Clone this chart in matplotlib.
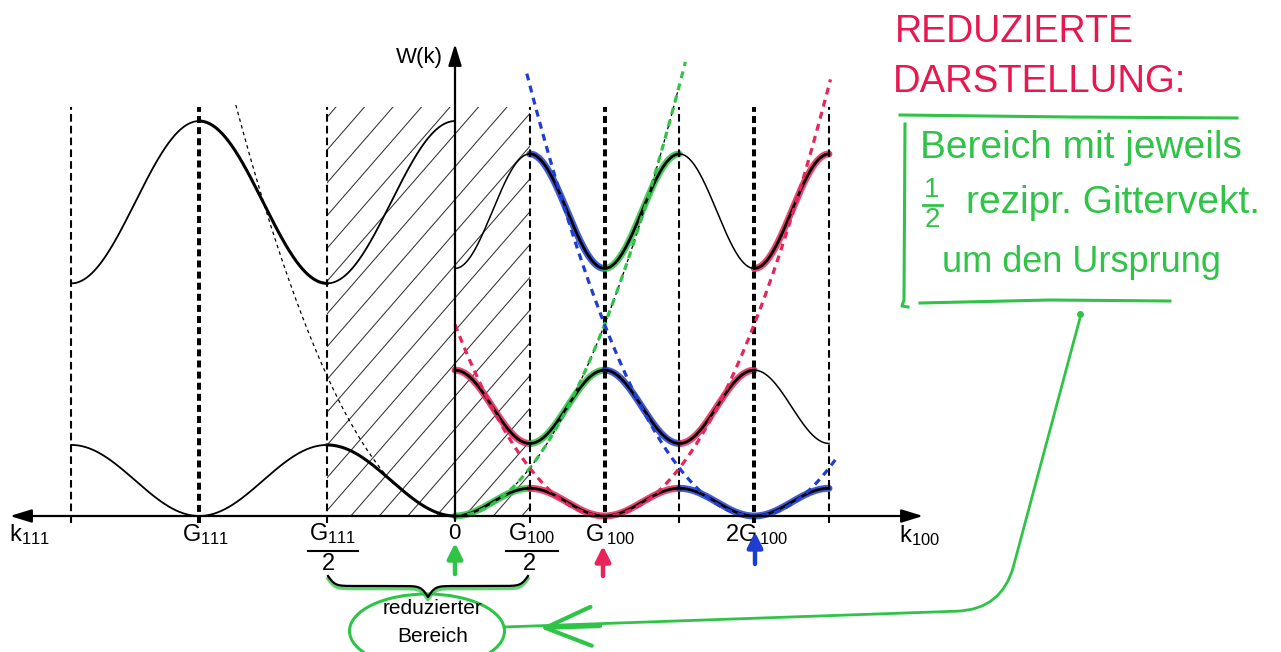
import numpy as np
import matplotlib
matplotlib.use("Agg")
import matplotlib.pyplot as plt
from matplotlib.patches import Ellipse, Rectangle

# ------------------------------------------------------------------ data
# k in units of G100/2 (same length scale used on the k111 side)
K100_LINES = [1, 2, 3, 4, 5]            # G100/2, G100, 3G100/2, 2G100, 5G100/2
K100_THICK = [False, True, False, True, False]
G111_HALF = 1.71
K111_LINES = [-G111_HALF, -2 * G111_HALF, -3 * G111_HALF]
K111_THICK = [False, True, False]

# band extrema (energy units)
RIGHT_MIN = [0.0, 0.97, 3.31]
RIGHT_MAX = [0.37, 1.95, 4.84]
LEFT_MIN = [0.0, 3.11]
LEFT_MAX = [0.95, 5.28]
K_LEFT_END = -3 * G111_HALF

FREE_C = 0.64                              # free-electron parabola W = c k^2
PARAB_CENTRE = [0.0, 2.0, 4.0]             # 0, G100, 2G100
PARAB_RANGE = [(0.0, 3.08), (0.0, 5.02), (0.96, 5.1)]
GREEN, PINK, BLUE = "#2fc447", "#e8245a", "#1f3ed0"
PARAB_COLOR = [GREEN, PINK, BLUE]

# coloured (extended-zone) pieces: (band index, k start, k end, colour)
HIGHLIGHTS = [
    (0, 0, 1, GREEN), (0, 1, 3, PINK), (0, 3, 5, BLUE),
    (1, 0, 1, PINK), (1, 1, 2, GREEN), (1, 2, 3, BLUE), (1, 3, 4, PINK),
    (2, 1, 2, BLUE), (2, 2, 3, GREEN), (2, 4, 5, PINK),
]
# black line pieces (band, k start, k end, thick?)
RIGHT_BLACK = [
    (0, 0, 5, True),
    (1, 0, 4, True), (1, 4, 5, False),
    (2, 0, 1, False), (2, 1, 3, True), (2, 3, 4, False), (2, 4, 5, True),
]
LEFT_BLACK = [
    (0, K_LEFT_END, -G111_HALF, False), (0, -G111_HALF, 0, True),
    (1, K_LEFT_END, -2 * G111_HALF, False), (1, -2 * G111_HALF, -G111_HALF, True),
    (1, -G111_HALF, 0, False),
]

# ------------------------------------------------------------------ layout
PX = 74.8
def X(px):
    return (px - 455) / PX
def Y(py):
    return (516 - py) / PX

plt.rcParams["lines.scale_dashes"] = False
plt.rcParams["font.family"] = ["Liberation Sans", "DejaVu Sans"]
plt.rcParams["mathtext.fontset"] = "custom"
plt.rcParams["mathtext.rm"] = "Liberation Sans"
plt.rcParams["mathtext.default"] = "regular"

fig = plt.figure(figsize=(12.81, 6.52), dpi=100)
ax = fig.add_axes([0, 0, 1, 1])
ax.set_xlim(X(0), X(1281))
ax.set_ylim(Y(652), Y(0))
ax.axis("off")


def right_band(i, k):
    lo, hi = RIGHT_MIN[i], RIGHT_MAX[i]
    if i == 1:
        return lo + (hi - lo) * (1 + np.cos(np.pi * k)) / 2
    return lo + (hi - lo) * (1 - np.cos(np.pi * k)) / 2


def left_band(i, k):
    lo, hi = LEFT_MIN[i], LEFT_MAX[i]
    ph = np.cos(2 * np.pi * k / (2 * G111_HALF))
    if i == 1:
        return lo + (hi - lo) * (1 + ph) / 2
    return lo + (hi - lo) * (1 - ph) / 2


TOP = Y(107)
BOT = Y(523)

# hatched reduced zone
rect = Rectangle((-G111_HALF, 0), 1 + G111_HALF, TOP, transform=ax.transData,
                 fill=False, lw=0)
m = 1.15
sp = 28.5 / PX
x0 = X(450) - TOP / m
starts = np.arange(x0 - 10 * sp, 1.5, sp)
for s in starts:
    xs = np.array([s, s + TOP / m])
    ln, = ax.plot(xs, m * (xs - s), color="#333333", lw=0.75, zorder=1)
    ln.set_clip_path(rect)

# vertical dashed lines
for k, thick in list(zip(K100_LINES, K100_THICK)) + list(zip(K111_LINES, K111_THICK)):
    ax.plot([k, k], [BOT, TOP], color="black", lw=2.9 if thick else 1.5,
            dashes=(5, 3) if thick else (5.5, 3), zorder=2.5)

# coloured highlights
for b, k0, k1, c in HIGHLIGHTS:
    k = np.linspace(k0, k1, 200)
    ax.plot(k, right_band(b, k), color=c, lw=5, alpha=0.85,
            solid_capstyle="round", zorder=2)

# black bands
for b, k0, k1, thick in RIGHT_BLACK:
    k = np.linspace(k0, k1, 300)
    ax.plot(k, right_band(b, k), color="black", lw=2.0 if thick else 1.1, zorder=3)
for b, k0, k1, thick in LEFT_BLACK:
    k = np.linspace(k0, k1, 300)
    ax.plot(k, left_band(b, k), color="black", lw=2.2 if thick else 1.3, zorder=3)

# free-electron parabolas
for c0, (k0, k1), col in zip(PARAB_CENTRE, PARAB_RANGE, PARAB_COLOR):
    k = np.linspace(k0, k1, 300)
    ax.plot(k, FREE_C * (k - c0) ** 2, color=col, lw=2.3, dashes=(5, 4), zorder=4)
k = np.linspace(-2.93, -0.8, 200)
ax.plot(k, FREE_C * k ** 2, color="black", lw=0.9, dashes=(2.5, 2.5), zorder=3)
k = np.linspace(0.75, 3.0, 200)
ax.plot(k, FREE_C * k ** 2, color="black", lw=0.9, dashes=(2.5, 2.5), zorder=3.5)

# axes
arr = dict(arrowstyle="-|>,head_length=1.3,head_width=0.4", lw=1.6, color="black",
           shrinkA=0, shrinkB=0, mutation_scale=10)
ax.annotate("", xy=(X(923), 0), xytext=(0, 0), arrowprops=arr, zorder=5)
ax.annotate("", xy=(X(10), 0), xytext=(0, 0), arrowprops=arr, zorder=5)
ax.annotate("", xy=(0, Y(44)), xytext=(0, Y(521)), arrowprops=arr, zorder=5)

fs = 17
ax.text(X(443), Y(58), "W(k)", ha="right", va="center", fontsize=16)
ax.text(X(9), Y(522), "k$_{111}$", ha="left", va="top", fontsize=fs)
ax.text(X(182), Y(522), "G$_{111}$", ha="left", va="top", fontsize=fs)
ax.text(X(309), Y(521), "G$_{111}$", ha="left", va="top", fontsize=fs)
ax.plot([X(308), X(358)], [Y(551), Y(551)], color="black", lw=1.5)
ax.text(X(328), Y(553), "2", ha="center", va="top", fontsize=fs)
ax.text(X(454), Y(523), "0", ha="center", va="top", fontsize=16)
ax.text(X(508), Y(521), "G$_{100}$", ha="left", va="top", fontsize=fs)
ax.plot([X(506), X(558)], [Y(551), Y(551)], color="black", lw=1.5)
ax.text(X(529), Y(553), "2", ha="center", va="top", fontsize=fs)
ax.text(X(585), Y(522), "G$_{\\,100}$", ha="left", va="top", fontsize=fs)
ax.text(X(725), Y(522), "2G$_{\\,100}$", ha="left", va="top", fontsize=fs)
ax.text(X(899), Y(523), "k$_{100}$", ha="left", va="top", fontsize=fs)

# coloured little arrows under the k-axis
for xp, y0, y1, col in [(455, 574, 543, GREEN), (603, 576, 546, PINK), (755, 564, 532, BLUE)]:
    ax.annotate("", xy=(X(xp), Y(y1)), xytext=(X(xp), Y(y0)),
                arrowprops=dict(arrowstyle="-|>,head_length=0.9,head_width=0.45",
                                lw=3.2, color=col, shrinkA=0, shrinkB=0,
                                mutation_scale=10))

# brace under the reduced zone
def brace(x0, x1, ytop, a, b, s, n=300):
    xm = (x0 + x1) / 2
    xl = np.linspace(x0, xm, n)
    yl = ytop - a * np.tanh((xl - x0) / s) - b * (1 - np.tanh((xm - xl) / s))
    xr = 2 * xm - xl[::-1]
    yr = yl[::-1]
    return np.concatenate([xl, xr]), np.concatenate([yl, yr])

bx, by = brace(X(328), X(528), Y(576), 10 / PX, 11 / PX, 7 / PX)
ax.plot(bx, by, color="black", lw=1.6, zorder=5)
ax.plot(bx, by - 2.5 / PX, color=GREEN, lw=2.6, alpha=0.75, zorder=4)

ax.add_patch(Ellipse((X(427), Y(631)), 155 / PX, 74 / PX, fill=False,
                     ec=GREEN, lw=2.2))
ax.text(X(432), Y(608), "reduzierter", ha="center", va="center", fontsize=15)
ax.text(X(433), Y(637), "Bereich", ha="center", va="center", fontsize=15)

# green arrow from the note to the ellipse
ax.annotate("", xy=(X(504), Y(627)), xytext=(X(1080), Y(318)),
            arrowprops=dict(arrowstyle="-", lw=2.0, color=GREEN,
                            connectionstyle="angle,angleA=-105,angleB=2,rad=45",
                            shrinkA=0, shrinkB=0))
ax.annotate("", xy=(X(540), Y(628)), xytext=(X(600), Y(626)),
            arrowprops=dict(arrowstyle="->,head_length=3.3,head_width=1.4",
                            lw=3.0, color=GREEN, shrinkA=0, shrinkB=0,
                            mutation_scale=10))
ax.plot([X(1080)], [Y(314)], "o", color=GREEN, ms=4)

# handwritten note
hand = ["Liberation Sans", "DejaVu Sans"]
RED = "#e8174f"
ax.text(X(895), Y(32), "REDUZIERTE", ha="left", va="center", fontsize=27,
        color=RED, family=hand)
ax.text(X(893), Y(82), "DARSTELLUNG:", ha="left", va="center", fontsize=27.5,
        color=RED, family=hand)
ax.plot([X(900), X(1070), X(1237)], [Y(115), Y(117), Y(118)], color=GREEN, lw=2.2)
ax.plot([X(905), X(904), X(902), X(908)], [Y(124), Y(300), Y(306), Y(307)],
        color=GREEN, lw=2.2)
ax.plot([X(920), X(1050), X(1170)], [Y(303), Y(300), Y(301)], color=GREEN, lw=2.2)
ax.text(X(920), Y(148), "Bereich mit jeweils", ha="left", va="center",
        fontsize=28, color=GREEN, family=hand)
ax.text(X(932), Y(190), "1", ha="center", va="center", fontsize=20,
        color=GREEN, family=hand)
ax.plot([X(923), X(942)], [Y(205), Y(205)], color=GREEN, lw=2.0)
ax.text(X(932), Y(220), "2", ha="center", va="center", fontsize=20,
        color=GREEN, family=hand)
ax.text(X(966), Y(203), "rezipr. Gittervekt.", ha="left", va="center",
        fontsize=28, color=GREEN, family=hand)
ax.text(X(942), Y(263), "um den Ursprung", ha="left", va="center",
        fontsize=26, color=GREEN, family=hand)

fig.savefig("out.png", dpi=100)
